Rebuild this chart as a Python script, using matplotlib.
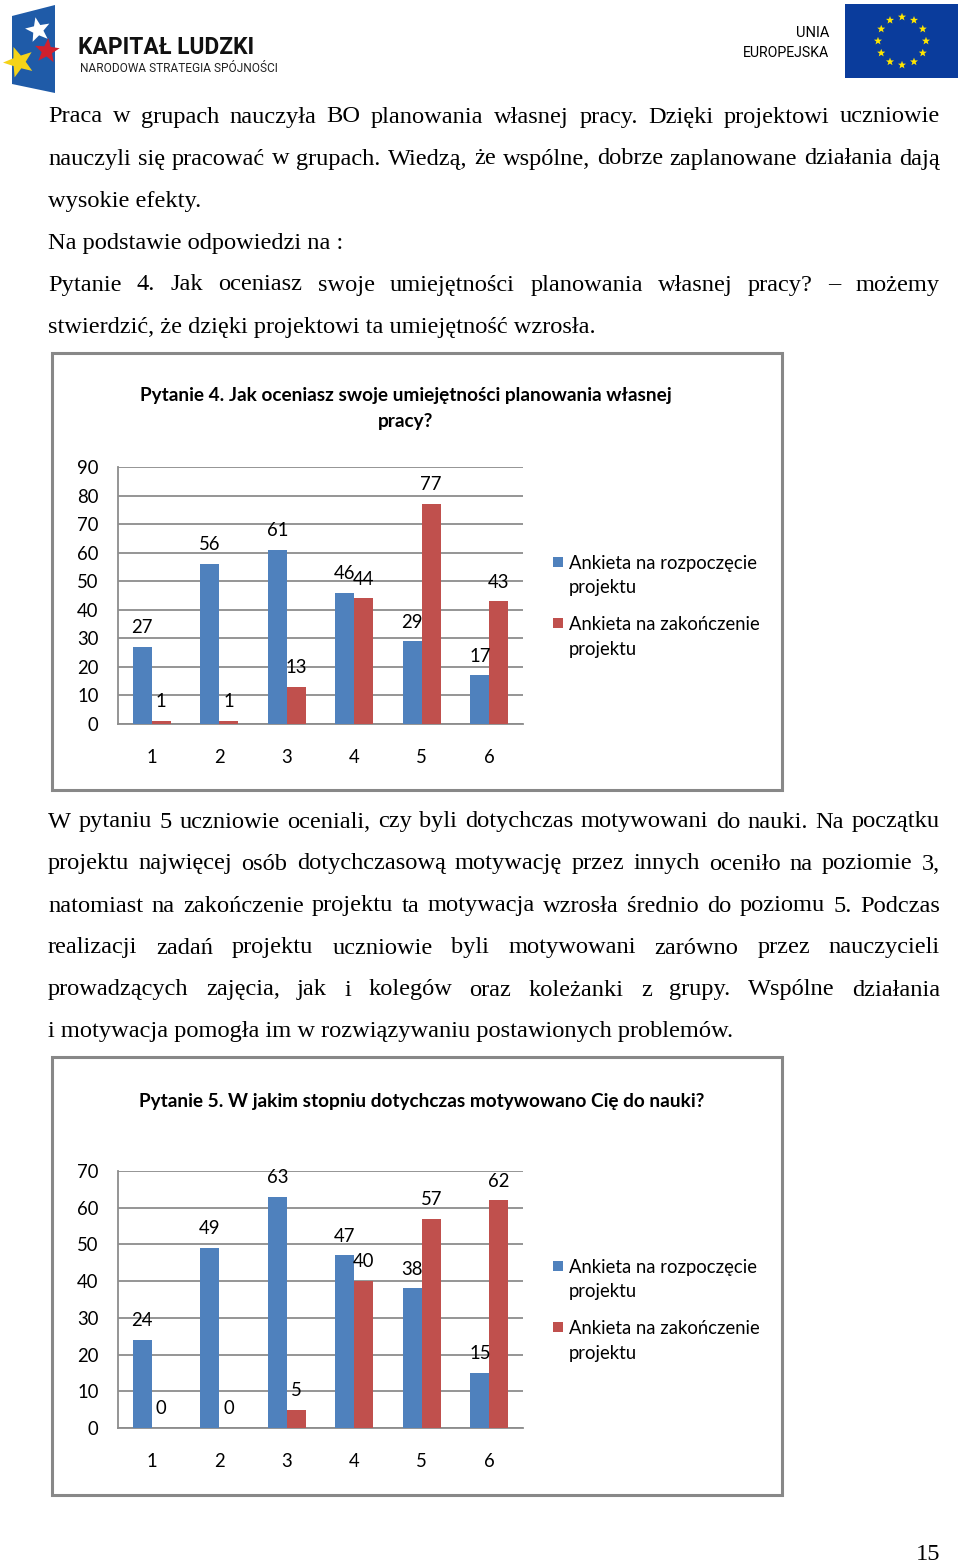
import matplotlib
matplotlib.use('Agg')
import matplotlib.pyplot as plt
from matplotlib.patches import Rectangle, Polygon
import numpy as np

W, H, DPI = 960, 1562, 100

# ---------------- data ----------------
categories = ['1', '2', '3', '4', '5', '6']
q4_start = [27, 56, 61, 46, 29, 17]
q4_end = [1, 1, 13, 44, 77, 43]
q5_start = [24, 49, 63, 47, 38, 15]
q5_end = [0, 0, 5, 40, 57, 62]
q4_yticks = [0, 10, 20, 30, 40, 50, 60, 70, 80, 90]
q5_yticks = [0, 10, 20, 30, 40, 50, 60, 70]
series_names = [('Ankieta na rozpoczęcie', 'projektu'),
                ('Ankieta na zakończenie', 'projektu')]
q4_title = ['Pytanie 4. Jak oceniasz swoje umiejętności planowania własnej', 'pracy?']
q5_title = ['Pytanie 5. W jakim stopniu dotychczas motywowano Cię do nauki?']

para1 = [
    ('Praca w grupach nauczyła BO planowania własnej pracy. Dzięki projektowi uczniowie', True),
    ('nauczyli się pracować w grupach. Wiedzą, że wspólne, dobrze zaplanowane działania dają', True),
    ('wysokie efekty.', False),
    ('Na podstawie odpowiedzi na :', False),
    ('Pytanie 4. Jak oceniasz swoje umiejętności planowania własnej pracy? – możemy', True),
    ('stwierdzić, że dzięki projektowi ta umiejętność wzrosła.', False),
]
para2 = [
    ('W pytaniu 5 uczniowie oceniali, czy byli dotychczas motywowani do nauki. Na początku', True),
    ('projektu najwięcej osób dotychczasową motywację przez innych oceniło na poziomie 3,', True),
    ('natomiast na zakończenie projektu ta motywacja wzrosła średnio do poziomu 5. Podczas', True),
    ('realizacji zadań projektu uczniowie byli motywowani zarówno przez nauczycieli', True),
    ('prowadzących zajęcia, jak i kolegów oraz koleżanki z grupy. Wspólne działania', True),
    ('i motywacja pomogła im w rozwiązywaniu postawionych problemów.', False),
]

BLUE = '#4F81BD'
RED = '#C0504D'
GRID = '#8C8C8C'
SERIF = ['Liberation Serif', 'DejaVu Serif']
SANS = ['Lato', 'DejaVu Sans']
HEAD = ['Roboto', 'DejaVu Sans']

fig = plt.figure(figsize=(W / DPI, H / DPI), dpi=DPI)
bg = fig.add_axes([0, 0, 1, 1])
bg.set_xlim(0, W)
bg.set_ylim(H, 0)
bg.axis('off')
renderer = fig.canvas.get_renderer()


def text_width(s, **kw):
    t = bg.text(0, 0, s, **kw)
    w = t.get_window_extent(renderer).width
    t.remove()
    return w


def fit_size(s, target, **kw):
    return 12 * target / text_width(s, fontsize=12, **kw)


body_fs = fit_size('stwierdzić, że dzięki projektowi ta umiejętność wzrosła.', 546, family=SERIF)
chart_fs = fit_size('Ankieta na rozpoczęcie', 188, family=SANS)
title_fs = fit_size(q4_title[0], 529, family=SANS, fontweight='bold')


def write_line(line, y, justified, x0=48, x1=940):
    kw = dict(family=SERIF, fontsize=body_fs, color='black')
    if not justified:
        bg.text(x0, y, line, ha='left', va='center', **kw)
        return
    words = line.split()
    widths = [text_width(w, **kw) for w in words]
    gap = (x1 - x0 - sum(widths)) / (len(words) - 1)
    x = x0
    for w, wd in zip(words, widths):
        bg.text(x, y, w, ha='left', va='center', **kw)
        x += wd + gap


for i, (line, j) in enumerate(para1):
    write_line(line, 117 + 42 * i, j)
for i, (line, j) in enumerate(para2):
    write_line(line, 822 + 42 * i, j)

bg.text(940, 1554, '15', ha='right', va='center', family=SERIF, fontsize=body_fs)


# ---------------- header ----------------
def star(cx, cy, r, rot=0):
    pts = []
    for k in range(10):
        ang = np.pi / 2 + rot + k * np.pi / 5
        rr = r if k % 2 == 0 else r * 0.42
        pts.append((cx + rr * np.cos(ang), cy - rr * np.sin(ang)))
    return pts


bg.add_patch(Polygon([(12, 16), (55, 5), (55, 93), (12, 84)], closed=True,
                     facecolor='#1F5BA8', edgecolor='none'))
bg.add_patch(Polygon(star(38, 30, 13, 0.2), closed=True, facecolor='white', edgecolor='none'))
bg.add_patch(Polygon(star(47, 51, 13, -0.1), closed=True, facecolor='#D0202E', edgecolor='none'))
bg.add_patch(Polygon(star(19, 62, 16, 0.35), closed=True, facecolor='#F5D318', edgecolor='none'))
bg.text(78, 48, 'KAPITAŁ LUDZKI', ha='left', va='center', family=HEAD, fontweight='bold',
        fontsize=fit_size('KAPITAŁ LUDZKI', 176, family=HEAD, fontweight='bold'),
        color='#111111')
bg.text(80, 68, 'NARODOWA STRATEGIA SPÓJNOŚCI', ha='left', va='center', family=HEAD,
        fontsize=fit_size('NARODOWA STRATEGIA SPÓJNOŚCI', 198, family=HEAD),
        color='#222222')
bg.text(829, 33, 'UNIA', ha='right', va='center', family=HEAD, fontsize=10.5)
bg.text(829, 53, 'EUROPEJSKA', ha='right', va='center', family=HEAD,
        fontsize=fit_size('EUROPEJSKA', 86, family=HEAD))
bg.add_patch(Rectangle((845, 4), 113, 74, facecolor='#0A3C9C', edgecolor='none'))
for k in range(12):
    a = k * np.pi / 6
    bg.add_patch(Polygon(star(902 + 24 * np.cos(a), 41 + 24 * np.sin(a), 4.2), closed=True,
                         facecolor='#FFE600', edgecolor='none'))


# ---------------- charts ----------------
def chart(top, bottom, start, end, yticks, title, frame, title_y, title_x, legend_y):
    fx0, fy0, fx1, fy1 = frame
    bg.add_patch(Rectangle((fx0, fy0), fx1 - fx0, fy1 - fy0, fill=False,
                           edgecolor='#888888', lw=2.2))
    left, right = 118, 523
    ax = fig.add_axes([left / W, 1 - bottom / H, (right - left) / W, (bottom - top) / H])
    x = np.arange(len(categories))
    bw = 0.28
    b1 = ax.bar(x - bw / 2, start, bw, color=BLUE, zorder=3)
    b2 = ax.bar(x + bw / 2, end, bw, color=RED, zorder=3)
    ax.set_xlim(-0.5, len(categories) - 0.5)
    ax.set_ylim(0, yticks[-1])
    ax.set_yticks(yticks)
    ax.set_xticks(x)
    ax.set_xticklabels(categories)
    ax.set_facecolor('none')
    ax.grid(axis='y', color=GRID, lw=1.3, zorder=0)
    ax.grid(axis='x', visible=False)
    for s in ['top', 'right']:
        ax.spines[s].set_visible(False)
    for s in ['left', 'bottom']:
        ax.spines[s].set_color(GRID)
        ax.spines[s].set_linewidth(1.3)
    ax.tick_params(axis='both', length=0, labelsize=chart_fs)
    ax.tick_params(axis='y', pad=14)
    ax.tick_params(axis='x', pad=18)
    for lab in ax.get_xticklabels() + ax.get_yticklabels():
        lab.set_family(SANS)
    for bars, vals in ((b1, start), (b2, end)):
        for rect, v in zip(bars, vals):
            ax.annotate(str(v), (rect.get_x() + rect.get_width() / 2, v),
                        xytext=(0, 13.8), textcoords='offset points', ha='center',
                        va='center', fontsize=chart_fs, family=SANS, zorder=5)
    for i, tl in enumerate(title):
        bg.text(title_x, title_y + 25 * i, tl, ha='center', va='center', family=SANS,
                fontweight='bold', fontsize=title_fs)
    for i, (name, color) in enumerate(zip(series_names, (BLUE, RED))):
        y0 = legend_y + 61 * i
        bg.add_patch(Rectangle((553, y0 - 5), 10, 10, facecolor=color, edgecolor='none'))
        bg.text(569, y0 + 1, name[0], ha='left', va='center', family=SANS, fontsize=chart_fs)
        bg.text(569, y0 + 26, name[1], ha='left', va='center', family=SANS, fontsize=chart_fs)
    return ax


chart(467, 724, q4_start, q4_end, q4_yticks, q4_title, (52, 353, 782, 790), 396, 406, 562)
chart(1171, 1428, q5_start, q5_end, q5_yticks, q5_title, (52, 1057, 782, 1495), 1101, 422, 1266)

fig.savefig('out.png', dpi=DPI, facecolor='white')
